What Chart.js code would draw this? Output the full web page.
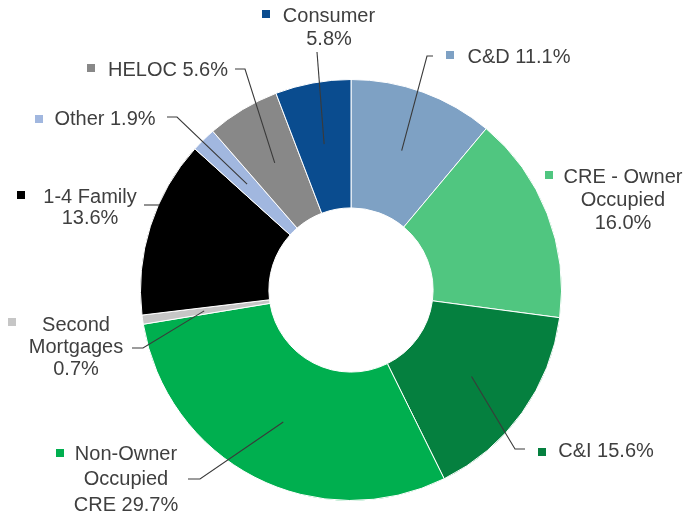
<!DOCTYPE html>
<html>
<head>
<meta charset="utf-8">
<script src="https://cdn.jsdelivr.net/npm/chart.js@4.4.1/dist/chart.umd.min.js"></script>
<style>
  html, body { margin: 0; padding: 0; background: #ffffff; }
  canvas { display: block; }
</style>
</head>
<body>
<canvas id="loanMix" width="688" height="516"></canvas>
<script>
// Loan portfolio mix, clockwise from 12 o'clock
const categoryLines = [
  ['C&D'],
  ['CRE - Owner', 'Occupied'],
  ['C&I'],
  ['Non-Owner', 'Occupied', 'CRE'],
  ['Second', 'Mortgages'],
  ['1-4 Family'],
  ['Other'],
  ['HELOC'],
  ['Consumer']
];
const categories = categoryLines.map(l => l.join(' '));
const shares = [11.1, 16.0, 15.6, 29.7, 0.7, 13.6, 1.9, 5.6, 5.8];
// true: the percentage sits on its own line; false: appended to the last name line
const pctOwnLine = [false, true, false, false, true, true, false, false, true];

const sliceColors = [
  '#7ea1c4', '#50c680', '#05803f', '#00af4f', '#c6c6c6',
  '#000000', '#a1b7df', '#888888', '#0a4c8f'
];

// Label placement: key square (mx,my), text centre cx, first line y0, line height lh,
// leader points from the label side toward the slice
const labelLayout = [
  { mx: 446, my: 51,  cx: 519, y0: 57,  lh: 23, leader: [[433, 56], [427, 56]] },
  { mx: 545, my: 171, cx: 623, y0: 177, lh: 23, leader: null },
  { mx: 538, my: 448, cx: 606, y0: 451, lh: 23, leader: [[525, 449], [515, 449]] },
  { mx: 56,  my: 449, cx: 126, y0: 454, lh: 25.5, leader: [[188, 479], [200, 479]] },
  { mx: 8,   my: 318, cx: 76,  y0: 325, lh: 22, leader: [[132, 348], [143, 348]] },
  { mx: 17,  my: 191, cx: 90,  y0: 197, lh: 21.5, leader: [[144, 205]], toEdge: true },
  { mx: 35,  my: 115, cx: 105, y0: 119, lh: 23, leader: [[167, 117], [177, 117]] },
  { mx: 87,  my: 64,  cx: 168, y0: 70,  lh: 23, leader: [[235, 69], [245, 69]] },
  { mx: 262, my: 10,  cx: 329, y0: 16,  lh: 23, leader: [[317, 52]] }
];

const FONT = '20px "Liberation Sans", Arial, sans-serif';
const TEXT_COLOR = '#3f3f3f';

const calloutPlugin = {
  id: 'callouts',
  afterDatasetsDraw(chart) {
    const ctx = chart.ctx;
    const arcs = chart.getDatasetMeta(0).data;
    ctx.save();
    arcs.forEach((arc, i) => {
      const lay = labelLayout[i];
      const p = arc.getProps(['x', 'y', 'startAngle', 'endAngle', 'innerRadius', 'outerRadius'], true);

      // leader line
      if (lay.leader) {
        let end;
        if (lay.toEdge) {
          const y = lay.leader[lay.leader.length - 1][1];
          const dy = y - p.y;
          end = [p.x - Math.sqrt(p.outerRadius * p.outerRadius - dy * dy) + 1, y];
        } else {
          const mid = (p.startAngle + p.endAngle) / 2;
          const r = (p.innerRadius + p.outerRadius) / 2 + 2;
          end = [p.x + Math.cos(mid) * r, p.y + Math.sin(mid) * r];
        }
        ctx.beginPath();
        ctx.strokeStyle = '#3a3a3a';
        ctx.lineWidth = 1.1;
        lay.leader.forEach((pt, k) => k === 0 ? ctx.moveTo(pt[0], pt[1]) : ctx.lineTo(pt[0], pt[1]));
        ctx.lineTo(end[0], end[1]);
        ctx.stroke();
      }

      // key square
      ctx.fillStyle = sliceColors[i];
      ctx.fillRect(lay.mx, lay.my, 8, 8);

      // text lines
      const pct = shares[i].toFixed(1) + '%';
      const lines = categoryLines[i].slice();
      if (pctOwnLine[i]) lines.push(pct);
      else lines[lines.length - 1] += ' ' + pct;
      ctx.font = FONT;
      ctx.fillStyle = TEXT_COLOR;
      ctx.textAlign = 'center';
      ctx.textBaseline = 'middle';
      lines.forEach((t, k) => ctx.fillText(t, lay.cx, lay.y0 + k * lay.lh));
    });
    ctx.restore();
  }
};

new Chart(document.getElementById('loanMix'), {
  type: 'doughnut',
  data: {
    labels: categories,
    datasets: [{
      data: shares,
      backgroundColor: sliceColors,
      borderColor: '#ffffff',
      borderWidth: 1
    }]
  },
  options: {
    responsive: false,
    animation: false,
    cutout: '39%',
    layout: { padding: { left: 140, right: 126, top: 79, bottom: 15 } },
    plugins: {
      legend: { display: false },
      tooltip: { enabled: false }
    }
  },
  plugins: [calloutPlugin]
});
</script>
</body>
</html>
